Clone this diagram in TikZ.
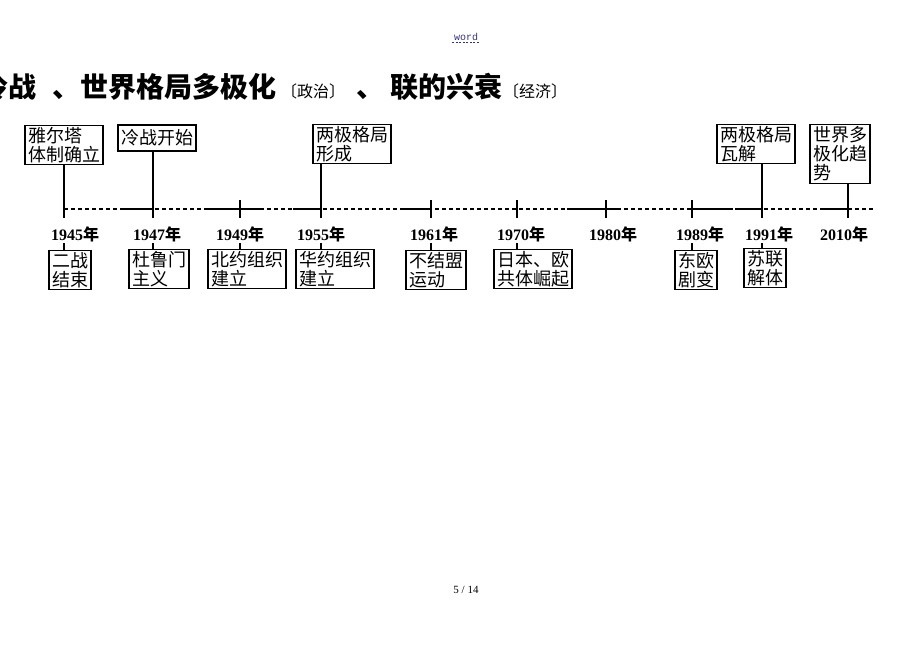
\documentclass[tikz,border=0pt]{standalone}
\usepackage{fontspec}
\setmainfont{Liberation Serif}
\newfontfamily\cjk{Noto Sans CJK SC}
\newfontfamily\hdmono{Liberation Mono}
\definecolor{hdblue}{RGB}{50,50,130}
\begin{document}
\begin{tikzpicture}[x=1pt,y=-1pt,
  evbox/.style={draw, line width=1.1pt, inner xsep=3pt, inner ysep=2pt, align=left,
    font=\cjk\fontsize{18}{19}\selectfont},
  yrlab/.style={anchor=base, font=\bfseries\fontsize{16}{16}\selectfont},
  ln/.style={line width=1.1pt},
  ttl/.style={anchor=base west, font=\cjk\bfseries\fontsize{28}{28}\selectfont, inner sep=0pt},
  ttls/.style={anchor=base west, font=\cjk\fontsize{16}{16}\selectfont, inner sep=0pt},
]
\useasboundingbox (0,0) rectangle (920,651);
\clip (0,0) rectangle (920,651);

% header / footer
\node[font=\hdmono\fontsize{10}{10}\selectfont, text=hdblue] (hd) at (466,37) {word};
\draw[hdblue, dash pattern=on 2pt off 1.5pt, line width=0.5pt]
  ([xshift=2pt,yshift=-2pt]hd.base west) -- ([xshift=-2pt,yshift=-2pt]hd.base east);
\node[font=\fontsize{11}{11}\selectfont] (pg) at (466,590) {5 / 14};

% title
\node[ttl]  (t1) at (-20,97) {冷战};
\node[ttl]  (t2) at (52,97)  {、};
\node[ttl]  (t3) at (80,97)  {世界格局多极化};
\node[ttls] (t4) at (281,97) {〔政治〕};
\node[ttl]  (t5) at (356,97) {、};
\node[ttl]  (t6) at (390,97) {联的兴衰};
\node[ttls] (t7) at (503,97) {〔经济〕};

% axis
\coordinate (axL) at (64,209);
\coordinate (axR) at (873,209);
\draw[ln, dash pattern=on 4pt off 3pt] (axL) -- (axR);
\foreach \a/\b in {120/153, 205/262, 293/321, 403/431, 567/620, 692/730, 735/762, 820/848}
  \draw[ln] (\a,209) -- (\b,209);

% ticks
\foreach \n/\x in {1945/64, 1947/153, 1949/240, 1955/321, 1961/431, 1970/517, 1980/606, 1989/692, 1991/762, 2010/848}{
  \coordinate (tt\n) at (\x,200);
  \coordinate (tb\n) at (\x,218);
  \coordinate (lc\n) at (\x,243);
  \draw[ln] (tt\n) -- (tb\n);
}

% year labels
\node[yrlab] (y1945) at (75,240)  {1945{\cjk\bfseries 年}};
\node[yrlab] (y1947) at (157,240) {1947{\cjk\bfseries 年}};
\node[yrlab] (y1949) at (240,240) {1949{\cjk\bfseries 年}};
\node[yrlab] (y1955) at (321,240) {1955{\cjk\bfseries 年}};
\node[yrlab] (y1961) at (434,240) {1961{\cjk\bfseries 年}};
\node[yrlab] (y1970) at (521,240) {1970{\cjk\bfseries 年}};
\node[yrlab] (y1980) at (613,240) {1980{\cjk\bfseries 年}};
\node[yrlab] (y1989) at (700,240) {1989{\cjk\bfseries 年}};
\node[yrlab] (y1991) at (769,240) {1991{\cjk\bfseries 年}};
\node[yrlab] (y2010) at (844,240) {2010{\cjk\bfseries 年}};

% upper boxes
\node[evbox] (u1) at (64,145)  {雅尔塔\\体制确立};
\node[evbox, minimum height=26pt] (u2) at (157,138) {冷战开始};
\node[evbox] (u3) at (352,144) {两极格局\\形成};
\node[evbox] (u4) at (756,144) {两极格局\\瓦解};
\node[evbox] (u5) at (840,154) {世界多\\极化趋\\势};

\draw[ln] (u1.south -| tb1945) -- (tt1945);
\draw[ln] (u2.south -| tb1947) -- (tt1947);
\draw[ln] (u3.south -| tb1955) -- (tt1955);
\draw[ln] (u4.south -| tb1991) -- (tt1991);
\draw[ln] (u5.south -| tb2010) -- (tt2010);

% lower boxes
\node[evbox] (l1) at (70,270)  {二战\\结束};
\node[evbox] (l2) at (159,269) {杜鲁门\\主义};
\node[evbox] (l3) at (247,269) {北约组织\\建立};
\node[evbox] (l4) at (335,269) {华约组织\\建立};
\node[evbox] (l5) at (436,270) {不结盟\\运动};
\node[evbox] (l6) at (533,269) {日本、欧\\共体崛起};
\node[evbox] (l7) at (696,270) {东欧\\剧变};
\node[evbox] (l8) at (765,268) {苏联\\解体};

\draw[ln] (lc1945) -- (lc1945 |- l1.north);
\draw[ln] (lc1947) -- (lc1947 |- l2.north);
\draw[ln] (lc1949) -- (lc1949 |- l3.north);
\draw[ln] (lc1955) -- (lc1955 |- l4.north);
\draw[ln] (lc1961) -- (lc1961 |- l5.north);
\draw[ln] (lc1970) -- (lc1970 |- l6.north);
\draw[ln] (lc1989) -- (lc1989 |- l7.north);
\draw[ln] (lc1991) -- (lc1991 |- l8.north);
\end{tikzpicture}
\end{document}
